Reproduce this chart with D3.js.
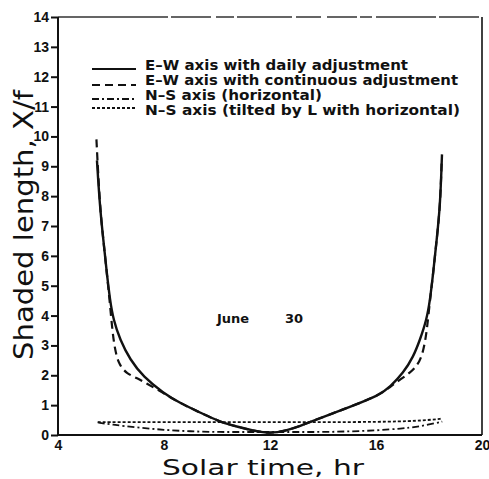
<!DOCTYPE html>
<html>
<head>
<meta charset="utf-8">
<script src="https://cdn.jsdelivr.net/npm/d3@7"></script>
<style>
	body { margin: 0; background: #fff; }
	svg { display: block; font-family: "DejaVu Sans", sans-serif; font-weight: bold; }
</style>
</head>
<body>
<svg id="chart" width="489" height="479"></svg>
<script>
'use strict';

// E-W axis with daily adjustment (solid)
var ewDailyT = [5.47, 5.58, 5.71, 5.84, 5.96, 6.09, 6.34, 6.72, 7.22, 7.97, 8.6, 9.3, 10.1, 10.8, 11.4, 12, 12.6, 13.2, 13.6, 14.9, 16.15, 16.53, 17.03, 17.41, 17.66, 17.91, 18.04, 18.16, 18.29, 18.42, 18.49];
var ewDailyV = [9.2, 7.65, 6.54, 5.44, 4.53, 3.86, 3.19, 2.52, 1.95, 1.41, 1.07, 0.78, 0.44, 0.27, 0.14, 0.05, 0.14, 0.32, 0.47, 0.9, 1.34, 1.61, 2.08, 2.62, 3.19, 3.86, 4.53, 5.44, 6.54, 7.65, 9.4];

// E-W axis with continuous adjustment (long dash)
var ewContT = [5.45, 5.58, 5.71, 5.84, 5.96, 6.05, 6.15, 6.3, 6.6, 7.0, 7.3, 7.97, 8.6, 9.3, 10.1, 10.8, 11.4, 12, 12.6, 13.2, 13.6, 14.9, 16.15, 16.53, 16.9, 17.28, 17.53, 17.72, 17.85, 17.93, 18.04, 18.16, 18.29, 18.42, 18.48];
var ewContV = [9.9, 7.65, 6.54, 5.44, 4.4, 3.5, 2.85, 2.35, 2.05, 1.9, 1.75, 1.41, 1.07, 0.78, 0.44, 0.27, 0.14, 0.05, 0.14, 0.32, 0.47, 0.9, 1.34, 1.61, 1.85, 2.08, 2.3, 2.6, 3.1, 3.6, 4.53, 5.44, 6.54, 7.65, 9.2];

// N-S axis (horizontal) (dash-dot)
var nsHorT = [5.5, 6, 7, 8, 9, 10, 11, 12, 13, 14, 15, 16, 17, 17.5, 18, 18.5];
var nsHorV = [0.42, 0.35, 0.25, 0.17, 0.12, 0.1, 0.1, 0.1, 0.1, 0.1, 0.12, 0.15, 0.22, 0.27, 0.35, 0.45];

// N-S axis (tilted by L with horizontal) (short dash)
var nsTiltT = [5.5, 7, 9, 11, 13, 15, 17, 18, 18.5];
var nsTiltV = [0.43, 0.43, 0.43, 0.43, 0.43, 0.43, 0.45, 0.5, 0.55];

var xTicks = [4, 8, 12, 16, 20];
var yTicks = [0, 1, 2, 3, 4, 5, 6, 7, 8, 9, 10, 11, 12, 13, 14];

var legendLabels = [
	"E\u2013W axis with daily adjustment",
	"E\u2013W axis with continuous adjustment",
	"N\u2013S axis (horizontal)",
	"N\u2013S axis (tilted by L with horizontal)"
];
var legendDash = [null, "8,5", "7,3,2,3", "3,2"];

var margin = {top: 17, right: 7, bottom: 44, left: 58};
var width = 489 - margin.left - margin.right;
var height = 479 - margin.top - margin.bottom;

var svg = d3.select("#chart");
var g = svg.append("g")
	.attr("transform", "translate(" + margin.left + "," + margin.top + ")");

var x = d3.scaleLinear().domain([4, 20]).range([0, width]);
var y = d3.scaleLinear().domain([0, 14]).range([height, 0]);

// frame (top edge is patchy in the scan)
g.append("line")
	.attr("x1", 0).attr("x2", width).attr("y1", 0).attr("y2", 0)
	.attr("stroke", "#333").attr("stroke-width", 1.4)
	.attr("stroke-dasharray", "110,3,40,5,18,3,55,4,25,6,30,3,12,4,60,3,40");
g.append("line")
	.attr("x1", width).attr("x2", width).attr("y1", 0).attr("y2", height)
	.attr("stroke", "#111").attr("stroke-width", 1.6);
g.append("line")
	.attr("x1", 0).attr("x2", width).attr("y1", height).attr("y2", height)
	.attr("stroke", "#111").attr("stroke-width", 2);
g.append("line")
	.attr("x1", 0).attr("x2", 0).attr("y1", 0).attr("y2", height)
	.attr("stroke", "#111").attr("stroke-width", 2);

// axes
var yAxis = g.append("g")
	.call(d3.axisLeft(y).tickValues(yTicks).tickSize(7).tickPadding(2));
yAxis.select(".domain").remove();
yAxis.selectAll("line").attr("stroke", "#111").attr("stroke-width", 2);
yAxis.selectAll("text")
	.attr("fill", "#111")
	.style("font-size", "14px")
	.style("font-weight", "bold");

var xAxis = g.append("g")
	.attr("transform", "translate(0," + height + ")")
	.call(d3.axisBottom(x).tickValues(xTicks).tickSize(0).tickPadding(5));
xAxis.select(".domain").remove();
xAxis.selectAll("text")
	.attr("fill", "#111")
	.style("font-size", "14px")
	.style("font-weight", "bold");

// curves
function drawSeries(ts, vs, dash, w) {
	var pts = ts.map(function(t, i) { return [t, vs[i]]; });
	var line = d3.line()
		.x(function(d) { return x(d[0]); })
		.y(function(d) { return y(d[1]); })
		.curve(d3.curveBasis);
	g.append("path")
		.datum(pts)
		.attr("d", line)
		.attr("fill", "none")
		.attr("stroke", "#111")
		.attr("stroke-width", w)
		.attr("stroke-dasharray", dash);
}

drawSeries(nsTiltT, nsTiltV, legendDash[3], 1.8);
drawSeries(nsHorT, nsHorV, legendDash[2], 1.8);
drawSeries(ewContT, ewContV, legendDash[1], 2.2);
drawSeries(ewDailyT, ewDailyV, legendDash[0], 2.4);

// legend
var legendBase = [70, 85, 100, 115];
var legendLineY = [69, 85, 99, 108];
var legendEnd = [408, 458, 322, 460];
legendLabels.forEach(function(lbl, i) {
	svg.append("line")
		.attr("x1", 92).attr("x2", 136)
		.attr("y1", legendLineY[i]).attr("y2", legendLineY[i])
		.attr("stroke", "#111")
		.attr("stroke-width", 1.8)
		.attr("stroke-dasharray", legendDash[i]);
	svg.append("text")
		.attr("x", 145)
		.attr("y", legendBase[i])
		.attr("textLength", legendEnd[i] - 145)
		.attr("lengthAdjust", "spacingAndGlyphs")
		.attr("fill", "#111")
		.style("font-size", "14px")
		.text(lbl);
});

// annotation
svg.append("text")
	.attr("x", 217).attr("y", 323)
	.attr("fill", "#111")
	.style("font-size", "13px")
	.text("June");
svg.append("text")
	.attr("x", 285).attr("y", 323)
	.attr("fill", "#111")
	.style("font-size", "13px")
	.text("30");

// axis titles
svg.append("text")
	.attr("x", 162).attr("y", 475)
	.attr("textLength", 202)
	.attr("lengthAdjust", "spacingAndGlyphs")
	.attr("fill", "#111")
	.style("font-size", "22px")
	.style("font-weight", "normal")
	.text("Solar time, hr");

svg.append("text")
	.attr("transform", "translate(33,360) rotate(-90)")
	.attr("textLength", 270)
	.attr("lengthAdjust", "spacingAndGlyphs")
	.attr("fill", "#111")
	.style("font-size", "26px")
	.style("font-weight", "normal")
	.text("Shaded length, X/f");
</script>
</body>
</html>
